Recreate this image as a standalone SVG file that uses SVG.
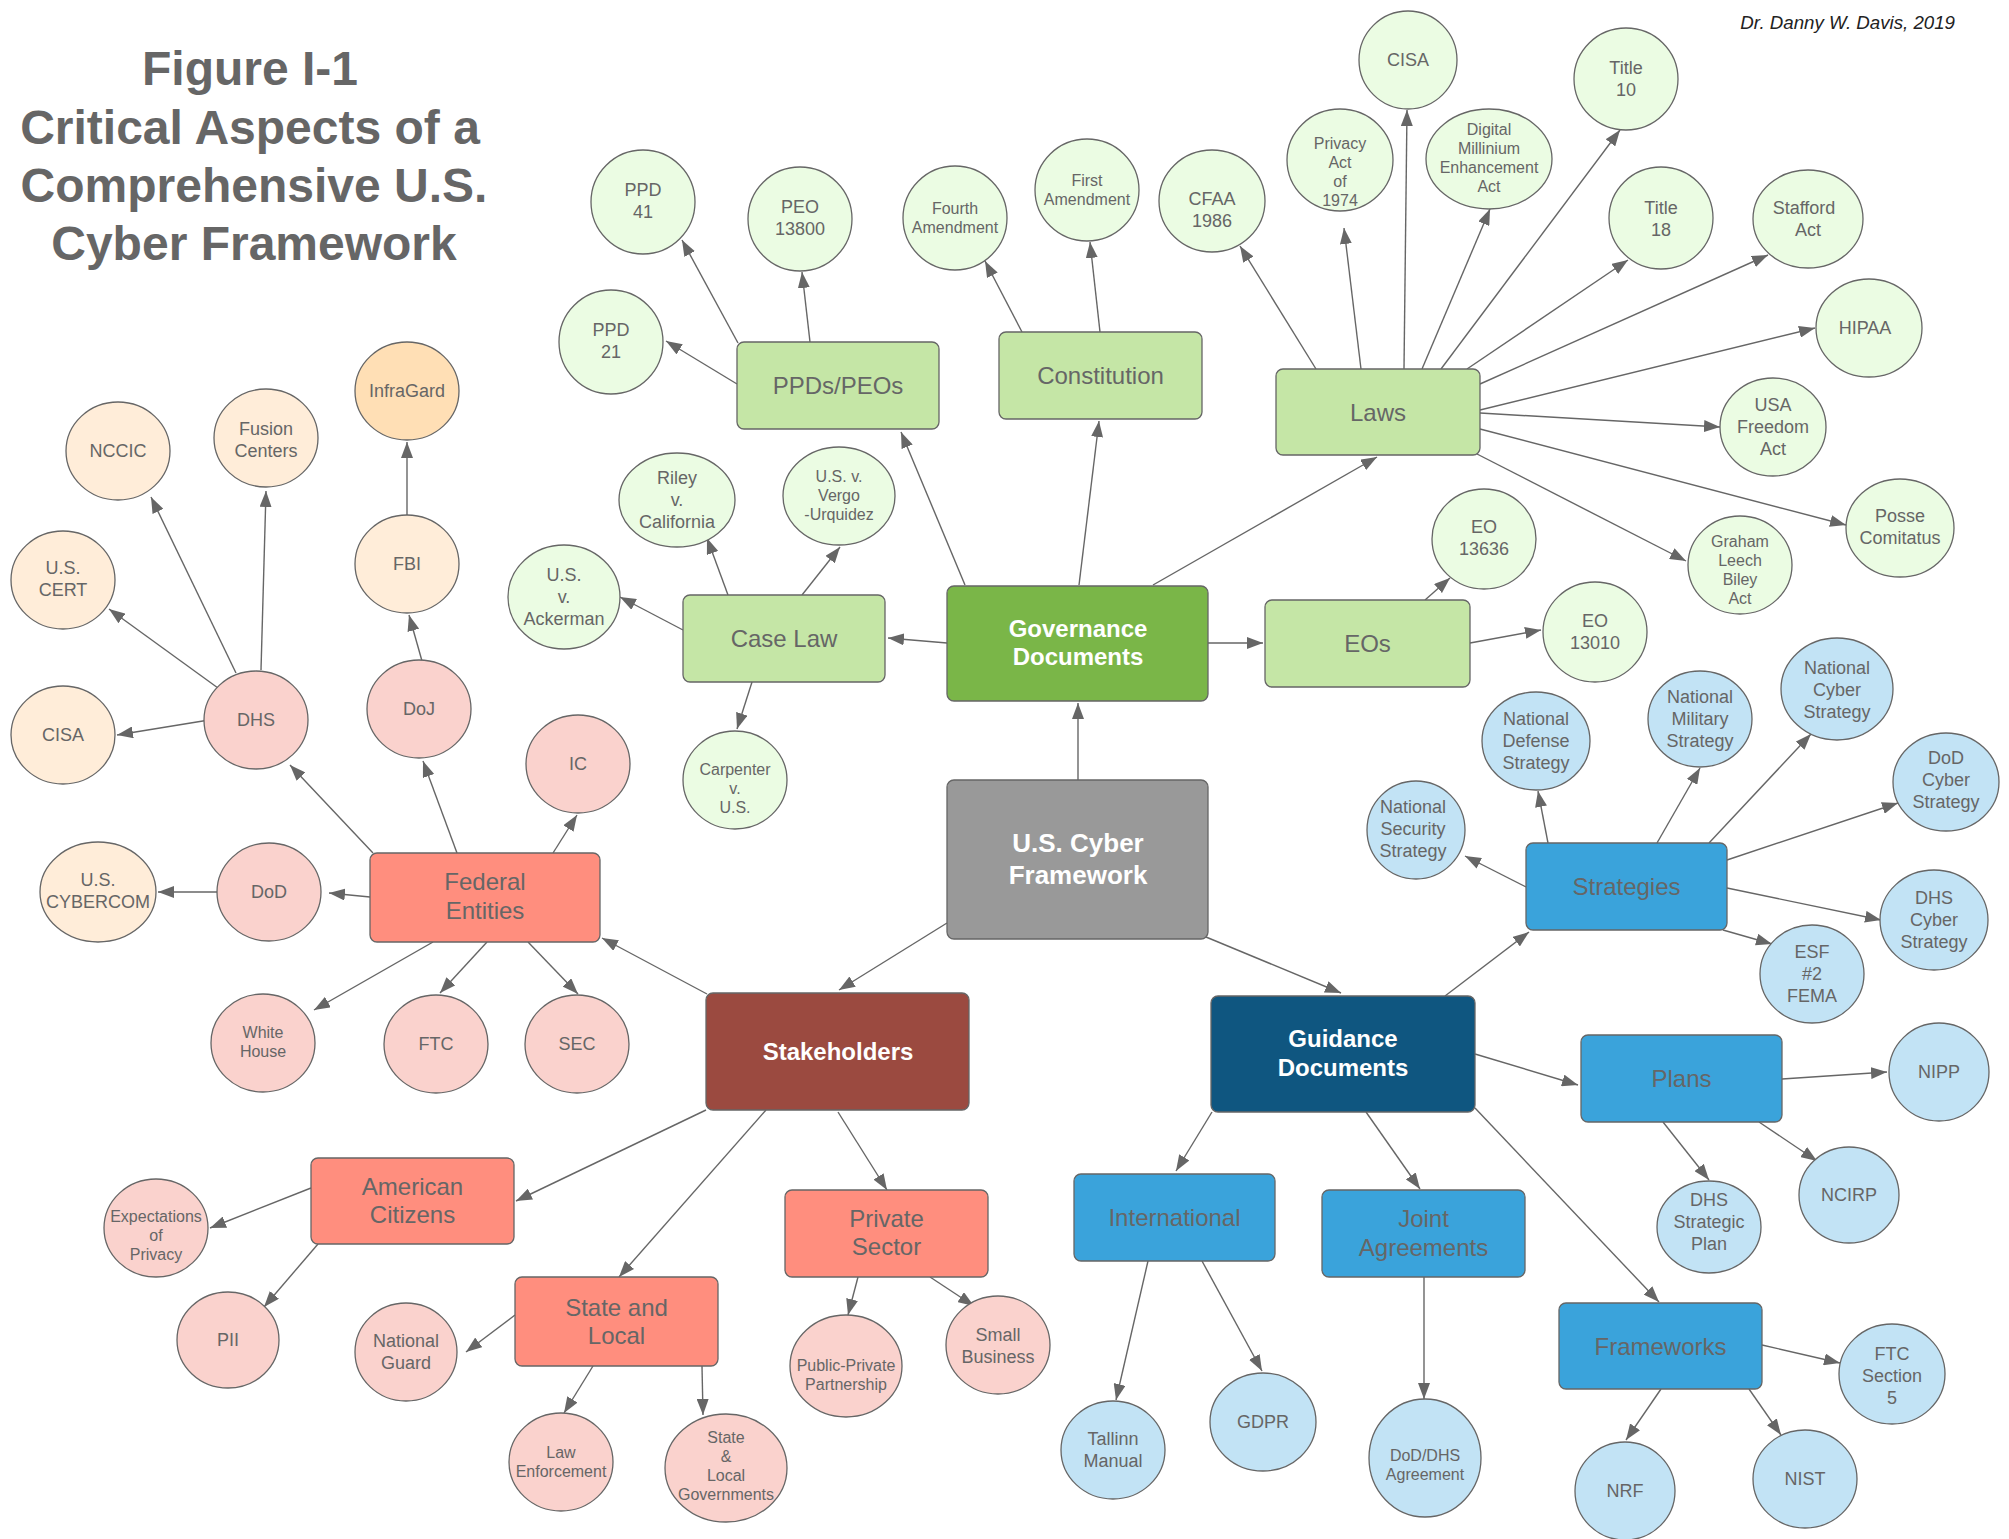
<svg xmlns="http://www.w3.org/2000/svg" width="2009" height="1539" viewBox="0 0 2009 1539">
<defs>
<marker id="ah" viewBox="0 0 16 12" refX="16" refY="6" markerWidth="16" markerHeight="12" markerUnits="userSpaceOnUse" orient="auto"><path d="M0,0 L16,6 L0,12 z" fill="#666"/></marker>
<style>
.t{font-family:"Liberation Sans",Arial,sans-serif;fill:#666;text-anchor:middle}
.s18{font-size:18px}.s15{font-size:16px}.s24{font-size:24px}.s26{font-size:26px}
.wb{fill:#fff;font-weight:bold}
.ttl{font-family:"Liberation Sans",Arial,sans-serif;font-weight:bold;font-size:48px;fill:#666;text-anchor:middle}
.au{font-family:"Liberation Sans",Arial,sans-serif;font-style:italic;font-size:18.7px;fill:#222;text-anchor:end}
.n{stroke:#666;stroke-width:1.3}
.gc{fill:#EBFCE3}.oc{fill:#FFEDD9}.ic{fill:#FFDFB5}.pc{fill:#FAD2CD}.bc{fill:#C2E3F5}
.gb{fill:#C5E6A6}.pb{fill:#FF8E7E}.bb{fill:#3AA3DB}
.cn path{stroke:#666;stroke-width:1.4;fill:none;marker-end:url(#ah)}
</style>
</defs>
<rect width="2009" height="1539" fill="#fff"/>
<g id="title">
<text class="ttl" x="250" y="85">Figure I-1</text>
<text class="ttl" x="250" y="144">Critical Aspects of a</text>
<text class="ttl" x="254" y="202">Comprehensive U.S.</text>
<text class="ttl" x="254" y="260">Cyber Framework</text>
</g>
<text id="author" class="au" x="1955" y="29">Dr. Danny W. Davis, 2019</text>

<g id="connectors" class="cn">
<path d="M1078,780 L1078,703"/>
<path d="M965,585 L901,432"/>
<path d="M1079,585 L1099,421"/>
<path d="M1153,585 L1377,457"/>
<path d="M947,643 L888,638"/>
<path d="M1208,643 L1263,643"/>
<path d="M947,923 L839,990"/>
<path d="M1206,937 L1341,993"/>
<path d="M738,343 L682,240"/>
<path d="M810,342 L802,272"/>
<path d="M737,384 L666,341"/>
<path d="M1022,332 L985,261"/>
<path d="M1100,332 L1090,242"/>
<path d="M1316,369 L1240,246"/>
<path d="M1361,369 L1344,228"/>
<path d="M1404,369 L1407,110"/>
<path d="M1422,369 L1490,209"/>
<path d="M1441,369 L1620,130"/>
<path d="M1467,369 L1628,260"/>
<path d="M1480,384 L1768,255"/>
<path d="M1480,410 L1815,328"/>
<path d="M1480,413 L1720,427"/>
<path d="M1480,429 L1846,525"/>
<path d="M1477,454 L1686,561"/>
<path d="M1425,600 L1450,578"/>
<path d="M1470,643 L1541,630"/>
<path d="M683,630 L620,597"/>
<path d="M728,595 L707,538"/>
<path d="M802,595 L840,547"/>
<path d="M752,682 L737,729"/>
<path d="M707,994 L602,938"/>
<path d="M706,1110 L516,1201"/>
<path d="M766,1110 L619,1277"/>
<path d="M838,1112 L887,1190"/>
<path d="M370,897 L329,893"/>
<path d="M373,853 L290,765"/>
<path d="M457,853 L423,761"/>
<path d="M553,853 L577,815"/>
<path d="M433,942 L314,1010"/>
<path d="M487,942 L440,993"/>
<path d="M528,942 L578,994"/>
<path d="M209,720 L117,735"/>
<path d="M218,688 L109,609"/>
<path d="M236,673 L151,497"/>
<path d="M261,670 L266,491"/>
<path d="M422,661 L409,615"/>
<path d="M407,515 L407,442"/>
<path d="M222,892 L158,892"/>
<path d="M311,1188 L210,1228"/>
<path d="M318,1244 L264,1307"/>
<path d="M515,1315 L466,1352"/>
<path d="M593,1366 L564,1413"/>
<path d="M702,1366 L703,1415"/>
<path d="M858,1277 L848,1315"/>
<path d="M930,1277 L974,1306"/>
<path d="M1445,996 L1529,932"/>
<path d="M1475,1054 L1578,1085"/>
<path d="M1212,1112 L1176,1171"/>
<path d="M1366,1112 L1420,1189"/>
<path d="M1475,1108 L1659,1302"/>
<path d="M1526,887 L1465,856"/>
<path d="M1548,843 L1538,791"/>
<path d="M1657,843 L1700,768"/>
<path d="M1709,843 L1811,734"/>
<path d="M1727,860 L1898,803"/>
<path d="M1727,888 L1881,920"/>
<path d="M1723,930 L1772,944"/>
<path d="M1782,1079 L1887,1072"/>
<path d="M1663,1122 L1709,1180"/>
<path d="M1759,1122 L1817,1161"/>
<path d="M1148,1261 L1116,1400"/>
<path d="M1202,1261 L1262,1371"/>
<path d="M1424,1277 L1424,1399"/>
<path d="M1762,1345 L1840,1363"/>
<path d="M1661,1389 L1626,1440"/>
<path d="M1749,1389 L1781,1435"/>
</g>

<!-- central boxes -->
<g id="cyber"><rect class="n" x="947" y="780" width="261" height="159" rx="7" fill="#999999"/><text class="t s26 wb" x="1078" y="852">U.S. Cyber<tspan x="1078" dy="32">Framework</tspan></text></g>
<g id="governance"><rect class="n" x="947" y="586" width="261" height="115" rx="7" fill="#7AB648"/><text class="t s24 wb" x="1078" y="636.5">Governance<tspan x="1078" dy="28">Documents</tspan></text></g>
<g id="stakeholders"><rect class="n" x="706" y="993" width="263" height="117" rx="7" fill="#9B4A40"/><text class="t s24 wb" x="838" y="1059.5">Stakeholders</text></g>
<g id="guidance"><rect class="n" x="1211" y="996" width="264" height="116" rx="7" fill="#0F5680"/><text class="t s24 wb" x="1343" y="1046.5">Guidance<tspan x="1343" dy="29">Documents</tspan></text></g>

<!-- green boxes -->
<g id="ppds"><rect class="n gb" x="737" y="342" width="202" height="87" rx="7"/><text class="t s24" x="838" y="394">PPDs/PEOs</text></g>
<g id="constitution"><rect class="n gb" x="999" y="332" width="203" height="87" rx="7"/><text class="t s24" x="1100.5" y="384">Constitution</text></g>
<g id="laws"><rect class="n gb" x="1276" y="369" width="204" height="86" rx="7"/><text class="t s24" x="1378" y="420.5">Laws</text></g>
<g id="caselaw"><rect class="n gb" x="683" y="595" width="202" height="87" rx="7"/><text class="t s24" x="784" y="647">Case Law</text></g>
<g id="eos"><rect class="n gb" x="1265" y="600" width="205" height="87" rx="7"/><text class="t s24" x="1367.5" y="652">EOs</text></g>

<!-- pink boxes -->
<g id="federal"><rect class="n pb" x="370" y="853" width="230" height="89" rx="7"/><text class="t s24" x="485" y="890">Federal<tspan x="485" dy="29">Entities</tspan></text></g>
<g id="american"><rect class="n pb" x="311" y="1158" width="203" height="86" rx="7"/><text class="t s24" x="412.5" y="1195">American<tspan x="412.5" dy="28">Citizens</tspan></text></g>
<g id="statelocal"><rect class="n pb" x="515" y="1277" width="203" height="89" rx="7"/><text class="t s24" x="616.5" y="1315.5">State and<tspan x="616.5" dy="28">Local</tspan></text></g>
<g id="private"><rect class="n pb" x="785" y="1190" width="203" height="87" rx="7"/><text class="t s24" x="886.5" y="1227">Private<tspan x="886.5" dy="28">Sector</tspan></text></g>

<!-- blue boxes -->
<g id="strategies"><rect class="n bb" x="1526" y="843" width="201" height="87" rx="7"/><text class="t s24" x="1626.5" y="895">Strategies</text></g>
<g id="plans"><rect class="n bb" x="1581" y="1035" width="201" height="87" rx="7"/><text class="t s24" x="1681.5" y="1087">Plans</text></g>
<g id="international"><rect class="n bb" x="1074" y="1174" width="201" height="87" rx="7"/><text class="t s24" x="1174.5" y="1226">International</text></g>
<g id="joint"><rect class="n bb" x="1322" y="1190" width="203" height="87" rx="7"/><text class="t s24" x="1423.5" y="1227">Joint<tspan x="1423.5" dy="29">Agreements</tspan></text></g>
<g id="frameworks"><rect class="n bb" x="1559" y="1303" width="203" height="86" rx="7"/><text class="t s24" x="1660.5" y="1354.5">Frameworks</text></g>

<!-- green circles -->
<g id="ppd41"><ellipse class="n gc" cx="643" cy="202" rx="52" ry="52"/><text class="t s18" x="643" y="196.3">PPD<tspan x="643" dy="22">41</tspan></text></g>
<g id="peo13800"><ellipse class="n gc" cx="800" cy="219" rx="52" ry="52"/><text class="t s18" x="800" y="213.3">PEO<tspan x="800" dy="22">13800</tspan></text></g>
<g id="ppd21"><ellipse class="n gc" cx="611" cy="342" rx="52" ry="52"/><text class="t s18" x="611" y="336.3">PPD<tspan x="611" dy="22">21</tspan></text></g>
<g id="fourth"><ellipse class="n gc" cx="955" cy="218" rx="52" ry="52"/><text class="t s15" x="955" y="214.3">Fourth<tspan x="955" dy="19">Amendment</tspan></text></g>
<g id="first"><ellipse class="n gc" cx="1087" cy="190" rx="52" ry="51"/><text class="t s15" x="1087" y="185.8">First<tspan x="1087" dy="19">Amendment</tspan></text></g>
<g id="cfaa"><ellipse class="n gc" cx="1212" cy="201" rx="53" ry="51"/><text class="t s18" x="1212" y="205.3">CFAA<tspan x="1212" dy="22">1986</tspan></text></g>
<g id="privacyact"><ellipse class="n gc" cx="1340" cy="160" rx="53" ry="51"/><text class="t s15" x="1340" y="148.8">Privacy<tspan x="1340" dy="19">Act</tspan><tspan x="1340" dy="19">of</tspan><tspan x="1340" dy="19">1974</tspan></text></g>
<g id="cisa-law"><ellipse class="n gc" cx="1408" cy="60" rx="49" ry="49"/><text class="t s18" x="1408" y="66.3">CISA</text></g>
<g id="dmea"><ellipse class="n gc" cx="1489" cy="159" rx="63" ry="50"/><text class="t s15" x="1489" y="134.8">Digital<tspan x="1489" dy="19">Millinium</tspan><tspan x="1489" dy="19">Enhancement</tspan><tspan x="1489" dy="19">Act</tspan></text></g>
<g id="title10"><ellipse class="n gc" cx="1626" cy="79" rx="52" ry="51"/><text class="t s18" x="1626" y="74.3">Title<tspan x="1626" dy="22">10</tspan></text></g>
<g id="title18"><ellipse class="n gc" cx="1661" cy="218" rx="52" ry="51"/><text class="t s18" x="1661" y="213.8">Title<tspan x="1661" dy="22">18</tspan></text></g>
<g id="stafford"><ellipse class="n gc" cx="1808" cy="219" rx="55" ry="49"/><text class="t s18" x="1804" y="213.8">Stafford<tspan x="1808" dy="22">Act</tspan></text></g>
<g id="hipaa"><ellipse class="n gc" cx="1869" cy="328" rx="53" ry="49"/><text class="t s18" x="1865" y="334.3">HIPAA</text></g>
<g id="usafreedom"><ellipse class="n gc" cx="1773" cy="427" rx="53" ry="49"/><text class="t s18" x="1773" y="411.3">USA<tspan x="1773" dy="22">Freedom</tspan><tspan x="1773" dy="22">Act</tspan></text></g>
<g id="posse"><ellipse class="n gc" cx="1900" cy="528" rx="54" ry="49"/><text class="t s18" x="1900" y="522.3">Posse<tspan x="1900" dy="22">Comitatus</tspan></text></g>
<g id="glba"><ellipse class="n gc" cx="1740" cy="565" rx="52" ry="49"/><text class="t s15" x="1740" y="546.8">Graham<tspan x="1740" dy="19">Leech</tspan><tspan x="1740" dy="19">Biley</tspan><tspan x="1740" dy="19">Act</tspan></text></g>
<g id="eo13636"><ellipse class="n gc" cx="1484" cy="539" rx="52" ry="50"/><text class="t s18" x="1484" y="533.3">EO<tspan x="1484" dy="22">13636</tspan></text></g>
<g id="eo13010"><ellipse class="n gc" cx="1595" cy="632" rx="52" ry="50"/><text class="t s18" x="1595" y="627.3">EO<tspan x="1595" dy="22">13010</tspan></text></g>
<g id="ackerman"><ellipse class="n gc" cx="564" cy="597" rx="56" ry="52"/><text class="t s18" x="564" y="581.3">U.S.<tspan x="564" dy="22">v.</tspan><tspan x="564" dy="22">Ackerman</tspan></text></g>
<g id="riley"><ellipse class="n gc" cx="677" cy="500" rx="58" ry="47"/><text class="t s18" x="677" y="484.3">Riley<tspan x="677" dy="22">v.</tspan><tspan x="677" dy="22">California</tspan></text></g>
<g id="vergo"><ellipse class="n gc" cx="839" cy="496" rx="56" ry="49"/><text class="t s15" x="839" y="482.3">U.S. v.<tspan x="839" dy="19">Vergo</tspan><tspan x="839" dy="19">-Urquidez</tspan></text></g>
<g id="carpenter"><ellipse class="n gc" cx="735" cy="780" rx="52" ry="49"/><text class="t s15" x="735" y="775.3">Carpenter<tspan x="735" dy="19">v.</tspan><tspan x="735" dy="19">U.S.</tspan></text></g>

<!-- orange circles -->
<g id="nccic"><ellipse class="n oc" cx="118" cy="451" rx="52" ry="49"/><text class="t s18" x="118" y="457.3">NCCIC</text></g>
<g id="fusion"><ellipse class="n oc" cx="266" cy="438" rx="52" ry="49"/><text class="t s18" x="266" y="435.3">Fusion<tspan x="266" dy="22">Centers</tspan></text></g>
<g id="infragard"><ellipse class="n ic" cx="407" cy="391" rx="52" ry="49"/><text class="t s18" x="407" y="397.3">InfraGard</text></g>
<g id="uscert"><ellipse class="n oc" cx="63" cy="580" rx="52" ry="49"/><text class="t s18" x="63" y="574.3">U.S.<tspan x="63" dy="22">CERT</tspan></text></g>
<g id="fbi"><ellipse class="n oc" cx="407" cy="564" rx="52" ry="49"/><text class="t s18" x="407" y="570.3">FBI</text></g>
<g id="cisa-dhs"><ellipse class="n oc" cx="63" cy="735" rx="52" ry="49"/><text class="t s18" x="63" y="741.3">CISA</text></g>
<g id="cybercom"><ellipse class="n oc" cx="98" cy="892" rx="58" ry="50"/><text class="t s18" x="98" y="886.3">U.S.<tspan x="98" dy="22">CYBERCOM</tspan></text></g>

<!-- pink circles -->
<g id="dhs"><ellipse class="n pc" cx="256" cy="720" rx="52" ry="49"/><text class="t s18" x="256" y="726.3">DHS</text></g>
<g id="doj"><ellipse class="n pc" cx="419" cy="709" rx="52" ry="49"/><text class="t s18" x="419" y="715.3">DoJ</text></g>
<g id="ic"><ellipse class="n pc" cx="578" cy="764" rx="52" ry="49"/><text class="t s18" x="578" y="770.3">IC</text></g>
<g id="dod"><ellipse class="n pc" cx="269" cy="892" rx="52" ry="49"/><text class="t s18" x="269" y="898.3">DoD</text></g>
<g id="whitehouse"><ellipse class="n pc" cx="263" cy="1043" rx="52" ry="49"/><text class="t s15" x="263" y="1037.8">White<tspan x="263" dy="19">House</tspan></text></g>
<g id="ftc"><ellipse class="n pc" cx="436" cy="1044" rx="52" ry="49"/><text class="t s18" x="436" y="1050.3">FTC</text></g>
<g id="sec"><ellipse class="n pc" cx="577" cy="1044" rx="52" ry="49"/><text class="t s18" x="577" y="1050.3">SEC</text></g>
<g id="expectations"><ellipse class="n pc" cx="156" cy="1228" rx="52" ry="49"/><text class="t s15" x="156" y="1222.3">Expectations<tspan x="156" dy="19">of</tspan><tspan x="156" dy="19">Privacy</tspan></text></g>
<g id="pii"><ellipse class="n pc" cx="228" cy="1340" rx="51" ry="48"/><text class="t s18" x="228" y="1346.3">PII</text></g>
<g id="guard"><ellipse class="n pc" cx="406" cy="1352" rx="51" ry="49"/><text class="t s18" x="406" y="1347.3">National<tspan x="406" dy="22">Guard</tspan></text></g>
<g id="lawenf"><ellipse class="n pc" cx="561" cy="1462" rx="52" ry="49"/><text class="t s15" x="561" y="1457.8">Law<tspan x="561" dy="19">Enforcement</tspan></text></g>
<g id="slgov"><ellipse class="n pc" cx="726" cy="1468" rx="61" ry="54"/><text class="t s15" x="726" y="1442.8">State<tspan x="726" dy="19">&amp;</tspan><tspan x="726" dy="19">Local</tspan><tspan x="726" dy="19">Governments</tspan></text></g>
<g id="ppp"><ellipse class="n pc" cx="846" cy="1366" rx="56" ry="51"/><text class="t s15" x="846" y="1370.8">Public-Private<tspan x="846" dy="19">Partnership</tspan></text></g>
<g id="smallbiz"><ellipse class="n pc" cx="998" cy="1345" rx="52" ry="49"/><text class="t s18" x="998" y="1341.3">Small<tspan x="998" dy="22">Business</tspan></text></g>

<!-- blue circles -->
<g id="nss"><ellipse class="n bc" cx="1416" cy="830" rx="49" ry="49"/><text class="t s18" x="1413" y="813.3">National<tspan x="1413" dy="22">Security</tspan><tspan x="1413" dy="22">Strategy</tspan></text></g>
<g id="nds"><ellipse class="n bc" cx="1536" cy="741" rx="54" ry="49"/><text class="t s18" x="1536" y="725.3">National<tspan x="1536" dy="22">Defense</tspan><tspan x="1536" dy="22">Strategy</tspan></text></g>
<g id="nms"><ellipse class="n bc" cx="1700" cy="719" rx="52" ry="48"/><text class="t s18" x="1700" y="703.3">National<tspan x="1700" dy="22">Military</tspan><tspan x="1700" dy="22">Strategy</tspan></text></g>
<g id="ncs"><ellipse class="n bc" cx="1837" cy="689" rx="56" ry="51"/><text class="t s18" x="1837" y="674.3">National<tspan x="1837" dy="22">Cyber</tspan><tspan x="1837" dy="22">Strategy</tspan></text></g>
<g id="dodcyber"><ellipse class="n bc" cx="1946" cy="782" rx="53" ry="49"/><text class="t s18" x="1946" y="764.3">DoD<tspan x="1946" dy="22">Cyber</tspan><tspan x="1946" dy="22">Strategy</tspan></text></g>
<g id="dhscyber"><ellipse class="n bc" cx="1934" cy="920" rx="54" ry="50"/><text class="t s18" x="1934" y="904.3">DHS<tspan x="1934" dy="22">Cyber</tspan><tspan x="1934" dy="22">Strategy</tspan></text></g>
<g id="esf"><ellipse class="n bc" cx="1812" cy="974" rx="52" ry="49"/><text class="t s18" x="1812" y="958.3">ESF<tspan x="1812" dy="22">#2</tspan><tspan x="1812" dy="22">FEMA</tspan></text></g>
<g id="nipp"><ellipse class="n bc" cx="1939" cy="1072" rx="50" ry="49"/><text class="t s18" x="1939" y="1078.3">NIPP</text></g>
<g id="dhsplan"><ellipse class="n bc" cx="1709" cy="1227" rx="52" ry="46"/><text class="t s18" x="1709" y="1206.3">DHS<tspan x="1709" dy="22">Strategic</tspan><tspan x="1709" dy="22">Plan</tspan></text></g>
<g id="ncirp"><ellipse class="n bc" cx="1849" cy="1195" rx="50" ry="48"/><text class="t s18" x="1849" y="1201.3">NCIRP</text></g>
<g id="tallinn"><ellipse class="n bc" cx="1113" cy="1450" rx="52" ry="49"/><text class="t s18" x="1113" y="1445.3">Tallinn<tspan x="1113" dy="22">Manual</tspan></text></g>
<g id="gdpr"><ellipse class="n bc" cx="1263" cy="1422" rx="53" ry="49"/><text class="t s18" x="1263" y="1428.3">GDPR</text></g>
<g id="doddhs"><ellipse class="n bc" cx="1425" cy="1458" rx="56" ry="59"/><text class="t s15" x="1425" y="1460.8">DoD/DHS<tspan x="1425" dy="19">Agreement</tspan></text></g>
<g id="ftc5"><ellipse class="n bc" cx="1892" cy="1374" rx="53" ry="50"/><text class="t s18" x="1892" y="1360.3">FTC<tspan x="1892" dy="22">Section</tspan><tspan x="1892" dy="22">5</tspan></text></g>
<g id="nrf"><ellipse class="n bc" cx="1625" cy="1491" rx="50" ry="49"/><text class="t s18" x="1625" y="1497.3">NRF</text></g>
<g id="nist"><ellipse class="n bc" cx="1805" cy="1479" rx="52" ry="49"/><text class="t s18" x="1805" y="1485.3">NIST</text></g>
</svg>
